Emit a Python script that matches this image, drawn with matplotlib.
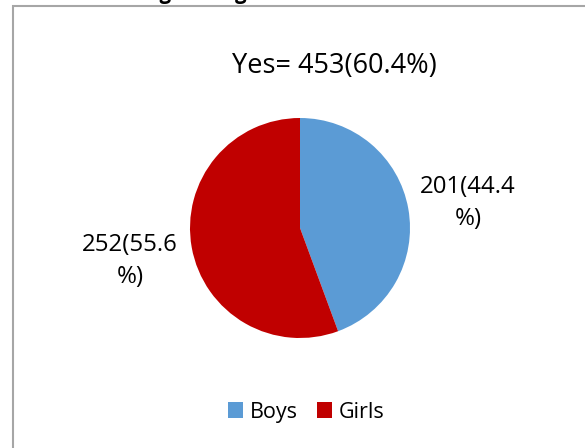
import matplotlib
matplotlib.use("Agg")
import matplotlib.pyplot as plt
from matplotlib.patches import Rectangle, Patch

categories = ["Boys", "Girls"]
values = [201, 252]
labels = ["201(44.4\n%)", "252(55.6\n%)"]
colors = ["#5B9BD5", "#C00000"]
title = "Yes= 453(60.4%)"
heading = "Smoking among"

W, H = 585, 448
fig = plt.figure(figsize=(W/100, H/100), dpi=100)
plt.rcParams['font.family'] = ['Open Sans', 'DejaVu Sans']

# chart border (partly outside)
fig.patches.append(Rectangle((13/W, -0.05), 1.1, 1 - 6/H + 0.05, transform=fig.transFigure,
                             fill=False, edgecolor="#A6A6A6", linewidth=1.5))

# heading cut off at the top edge (only descenders visible)
fig.text(83/W, 1 + 1.5/H, heading, ha="left", va="baseline",
         fontsize=14.8, fontweight="bold", color="black")

cx, cy, r = 300, 228, 110
ax = fig.add_axes([(cx - r)/W, (H - cy - r)/H, 2*r/W, 2*r/H])
ax.pie(values, colors=colors, startangle=90, counterclock=False,
       wedgeprops=dict(linewidth=0))
ax.set_xlim(-1, 1); ax.set_ylim(-1, 1)
ax.set_aspect('auto')
ax.axis('off')

fig.text(334/W, 1 - 66/H, title, ha="center", va="center", fontsize=19.5)
fig.text(468/W, 1 - 203/H, labels[0], ha="center", va="center", fontsize=17.3, linespacing=1.4)
fig.text(130/W, 1 - 261/H, labels[1], ha="center", va="center", fontsize=17.3, linespacing=1.4)

handles = [Patch(facecolor=c, edgecolor='none') for c in colors]
fig.legend(handles, categories, loc="center", bbox_to_anchor=(306/W, 1 - 412/H),
           ncol=2, frameon=False, fontsize=15.5, handlelength=0.7, handleheight=0.7,
           handletextpad=0.3, columnspacing=0.9)

fig.savefig("out.png", dpi=100)
